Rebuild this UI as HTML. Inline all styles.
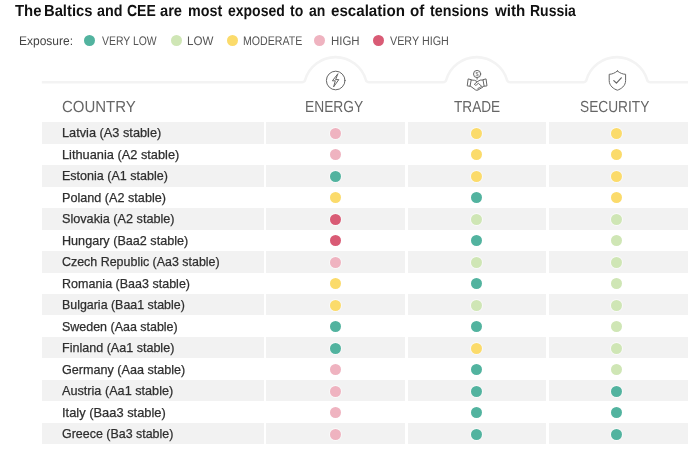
<!DOCTYPE html>
<html><head><meta charset="utf-8"><title>Exposure</title>
<style>
html,body{margin:0;padding:0;background:#fff;}
body{width:700px;height:459px;position:relative;overflow:hidden;font-family:"Liberation Sans",sans-serif;color:#333;}
.t{position:absolute;white-space:nowrap;transform-origin:0 50%;}
.title{font-size:16px;font-weight:bold;color:#111;line-height:20px;}
.tw{margin:0;padding:0;font-size:16px;}
.lg{font-size:12.5px;line-height:14px;color:#555;}
.lge{color:#444;}
.ld{position:absolute;width:11.2px;height:11.2px;border-radius:50%;top:35.25px;}
.hd{font-size:16px;line-height:18px;color:#666;}
.stripe{position:absolute;background:#f2f2f2;}
.rt{font-size:13px;line-height:21px;color:#2e2e2e;-webkit-text-stroke:0.25px #2e2e2e;}
.d{position:absolute;width:11.2px;height:11.2px;border-radius:50%;box-shadow:0 0 0 1px rgba(255,255,255,.55);}
svg{position:absolute;left:0;top:0;}
</style></head><body>

<div class="stripe" style="left:41.8px;top:122.10px;width:221.9px;height:21.55px"></div>
<div class="stripe" style="left:266.4px;top:122.10px;width:138.4px;height:21.55px"></div>
<div class="stripe" style="left:407.8px;top:122.10px;width:137.9px;height:21.55px"></div>
<div class="stripe" style="left:549.0px;top:122.10px;width:139.0px;height:21.55px"></div>
<div class="stripe" style="left:41.8px;top:165.06px;width:221.9px;height:21.55px"></div>
<div class="stripe" style="left:266.4px;top:165.06px;width:138.4px;height:21.55px"></div>
<div class="stripe" style="left:407.8px;top:165.06px;width:137.9px;height:21.55px"></div>
<div class="stripe" style="left:549.0px;top:165.06px;width:139.0px;height:21.55px"></div>
<div class="stripe" style="left:41.8px;top:208.02px;width:221.9px;height:21.55px"></div>
<div class="stripe" style="left:266.4px;top:208.02px;width:138.4px;height:21.55px"></div>
<div class="stripe" style="left:407.8px;top:208.02px;width:137.9px;height:21.55px"></div>
<div class="stripe" style="left:549.0px;top:208.02px;width:139.0px;height:21.55px"></div>
<div class="stripe" style="left:41.8px;top:250.98px;width:221.9px;height:21.55px"></div>
<div class="stripe" style="left:266.4px;top:250.98px;width:138.4px;height:21.55px"></div>
<div class="stripe" style="left:407.8px;top:250.98px;width:137.9px;height:21.55px"></div>
<div class="stripe" style="left:549.0px;top:250.98px;width:139.0px;height:21.55px"></div>
<div class="stripe" style="left:41.8px;top:293.94px;width:221.9px;height:21.55px"></div>
<div class="stripe" style="left:266.4px;top:293.94px;width:138.4px;height:21.55px"></div>
<div class="stripe" style="left:407.8px;top:293.94px;width:137.9px;height:21.55px"></div>
<div class="stripe" style="left:549.0px;top:293.94px;width:139.0px;height:21.55px"></div>
<div class="stripe" style="left:41.8px;top:336.90px;width:221.9px;height:21.55px"></div>
<div class="stripe" style="left:266.4px;top:336.90px;width:138.4px;height:21.55px"></div>
<div class="stripe" style="left:407.8px;top:336.90px;width:137.9px;height:21.55px"></div>
<div class="stripe" style="left:549.0px;top:336.90px;width:139.0px;height:21.55px"></div>
<div class="stripe" style="left:41.8px;top:379.86px;width:221.9px;height:21.55px"></div>
<div class="stripe" style="left:266.4px;top:379.86px;width:138.4px;height:21.55px"></div>
<div class="stripe" style="left:407.8px;top:379.86px;width:137.9px;height:21.55px"></div>
<div class="stripe" style="left:549.0px;top:379.86px;width:139.0px;height:21.55px"></div>
<div class="stripe" style="left:41.8px;top:422.82px;width:221.9px;height:21.55px"></div>
<div class="stripe" style="left:266.4px;top:422.82px;width:138.4px;height:21.55px"></div>
<div class="stripe" style="left:407.8px;top:422.82px;width:137.9px;height:21.55px"></div>
<div class="stripe" style="left:549.0px;top:422.82px;width:139.0px;height:21.55px"></div>
<div class="ld" style="left:83.90px;background:#52b39f"></div>
<div class="ld" style="left:170.60px;background:#cfe6b5"></div>
<div class="ld" style="left:226.60px;background:#fbdb6b"></div>
<div class="ld" style="left:314.20px;background:#efb3c0"></div>
<div class="ld" style="left:372.90px;background:#d95b75"></div>
<svg width="700" height="130" viewBox="0 0 700 130" fill="none">
<path d="M41.8 82.2 L301.92 82.2 Q304.52 82.2 305.12 80.00 A31.6 31.6 0 0 1 365.88 80.00 Q366.48 82.2 369.08 82.2 L443.02 82.2 Q445.62 82.2 446.22 80.00 A31.6 31.6 0 0 1 506.98 80.00 Q507.58 82.2 510.18 82.2 L583.22 82.2 Q585.82 82.2 586.42 80.00 A31.6 31.6 0 0 1 647.18 80.00 Q647.78 82.2 650.38 82.2 L688 82.2" stroke="#f3f3f3" stroke-width="2.6"/>
<g stroke="#666" stroke-width="1" stroke-linejoin="round" stroke-linecap="round" transform="translate(335.7 0)">
<circle cx="0" cy="80.5" r="9.3"/><path d="M2 74 L-3.3 80.8 L-0.4 80.8 L-2.1 86.9 L3.1 79.6 L0.3 79.6 Z"/></g>
<g stroke="#666" stroke-width="1" stroke-linejoin="round" stroke-linecap="round" transform="translate(477.1 0)">
<circle cx="0" cy="74" r="3.6"/>
<path d="M-8.56 79 L-5.86 79.7 L-7.07 86.3 L-9.49 85.9 Z"/><path d="M8.56 79 L5.86 79.7 L7.07 86.3 L9.49 85.9 Z"/>
<path d="M-5.86 80 L-2.42 80.3 L0.19 81.7 L2.98 80.1 L5.86 80"/>
<path d="M0.19 81.7 L-2.79 84.3 Q-1.86 85.9 -0.47 84.8 L1.21 83.3 L5.58 87.2"/>
<path d="M-6.88 86 L-1.4 90 Q-0.28 90.6 0.93 90 L5.58 87.2 L6.7 86"/>
<path d="M0 78 L0 79.2"/>
<path d="M0.56 89 L1.86 87.6 M2.42 88 L3.72 86.6"/></g>
<g stroke="#666" stroke-width="1" stroke-linejoin="round" stroke-linecap="round" transform="translate(617.4 0)">
<path d="M0 71 C-2.6 73.2 -5.4 74.2 -8.2 74.3 L-8.2 80.5 C-8.2 86 -3.6 89 0 90.2 C3.6 89 8.2 86 8.2 80.5 L8.2 74.3 C5.4 74.2 2.6 73.2 0 71 Z"/><path d="M-3.6 80.6 L-1 83.2 L3.9 77.8" stroke-width="1.2"/></g>
<text x="477.1" y="75.9" font-size="5.5" fill="#666" text-anchor="middle" font-family="Liberation Sans, sans-serif">$</text>
</svg>
<h1 class="tw">
<span id="tw0" class="t title" style="left:14.63px;top:1.00px;transform:rotate(0.03deg) scaleX(0.9320)">The</span>
<span id="tw1" class="t title" style="left:44.06px;top:1.00px;transform:rotate(0.03deg) scaleX(0.9226)">Baltics</span>
<span id="tw2" class="t title" style="left:96.74px;top:1.00px;transform:rotate(0.03deg) scaleX(0.8965)">and</span>
<span id="tw3" class="t title" style="left:126.59px;top:1.00px;transform:rotate(0.03deg) scaleX(0.8750)">CEE</span>
<span id="tw4" class="t title" style="left:160.00px;top:1.00px;transform:rotate(0.03deg) scaleX(0.9168)">are</span>
<span id="tw5" class="t title" style="left:188.34px;top:1.00px;transform:rotate(0.03deg) scaleX(0.8933)">most</span>
<span id="tw6" class="t title" style="left:228.30px;top:1.00px;transform:rotate(0.03deg) scaleX(0.8750)">exposed</span>
<span id="tw7" class="t title" style="left:289.94px;top:1.00px;transform:rotate(0.03deg) scaleX(0.8750)">to</span>
<span id="tw8" class="t title" style="left:309.20px;top:1.00px;transform:rotate(0.03deg) scaleX(0.8750)">an</span>
<span id="tw9" class="t title" style="left:331.40px;top:1.00px;transform:rotate(0.03deg) scaleX(0.9450)">escalation</span>
<span id="tw10" class="t title" style="left:409.88px;top:1.00px;transform:rotate(0.03deg) scaleX(0.9450)">of</span>
<span id="tw11" class="t title" style="left:430.00px;top:1.00px;transform:rotate(0.03deg) scaleX(0.8933)">tensions</span>
<span id="tw12" class="t title" style="left:494.90px;top:1.00px;transform:rotate(0.03deg) scaleX(0.9450)">with</span>
<span id="tw13" class="t title" style="left:530.17px;top:1.00px;transform:rotate(0.03deg) scaleX(0.8750)">Russia</span>
</h1>
<div id="lg0" class="t lg lge" style="left:19.07px;top:34.10px;transform:rotate(0.03deg) scaleX(0.9605)">Exposure:</div>
<div id="lg1" class="t lg" style="left:102.05px;top:34.10px;transform:rotate(0.03deg) scaleX(0.8336)">VERY LOW</div>
<div id="lg2" class="t lg" style="left:187.08px;top:34.10px;transform:rotate(0.03deg) scaleX(0.9245)">LOW</div>
<div id="lg3" class="t lg" style="left:243.15px;top:34.10px;transform:rotate(0.03deg) scaleX(0.8495)">MODERATE</div>
<div id="lg4" class="t lg" style="left:331.07px;top:34.10px;transform:rotate(0.03deg) scaleX(0.9153)">HIGH</div>
<div id="lg5" class="t lg" style="left:390.05px;top:34.10px;transform:rotate(0.03deg) scaleX(0.8611)">VERY HIGH</div>
<div id="h0" class="t hd" style="left:62.06px;top:97.60px;transform:rotate(0.03deg) scaleX(0.9351)">COUNTRY</div>
<div id="h1" class="t hd" style="left:305.14px;top:97.60px;transform:rotate(0.03deg) scaleX(0.8612)">ENERGY</div>
<div id="h2" class="t hd" style="left:454.06px;top:97.60px;transform:rotate(0.03deg) scaleX(0.8519)">TRADE</div>
<div id="h3" class="t hd" style="left:580.19px;top:97.60px;transform:rotate(0.03deg) scaleX(0.8564)">SECURITY</div>
<div id="r0" class="t rt" style="left:62.00px;top:122.40px;transform:scaleX(0.9810)">Latvia (A3 stable)</div>
<div id="r1" class="t rt" style="left:62.00px;top:143.88px;transform:scaleX(0.9834)">Lithuania (A2 stable)</div>
<div id="r2" class="t rt" style="left:62.00px;top:165.36px;transform:scaleX(0.9637)">Estonia (A1 stable)</div>
<div id="r3" class="t rt" style="left:62.00px;top:186.84px;transform:scaleX(0.9720)">Poland (A2 stable)</div>
<div id="r4" class="t rt" style="left:62.00px;top:208.32px;transform:scaleX(0.9737)">Slovakia (A2 stable)</div>
<div id="r5" class="t rt" style="left:62.00px;top:229.80px;transform:scaleX(0.9703)">Hungary (Baa2 stable)</div>
<div id="r6" class="t rt" style="left:62.00px;top:251.28px;transform:scaleX(0.9570)">Czech Republic (Aa3 stable)</div>
<div id="r7" class="t rt" style="left:62.00px;top:272.76px;transform:scaleX(0.9628)">Romania (Baa3 stable)</div>
<div id="r8" class="t rt" style="left:62.00px;top:294.24px;transform:scaleX(0.9546)">Bulgaria (Baa1 stable)</div>
<div id="r9" class="t rt" style="left:62.00px;top:315.72px;transform:scaleX(0.9586)">Sweden (Aaa stable)</div>
<div id="r10" class="t rt" style="left:62.00px;top:337.20px;transform:scaleX(0.9654)">Finland (Aa1 stable)</div>
<div id="r11" class="t rt" style="left:62.00px;top:358.68px;transform:scaleX(0.9688)">Germany (Aaa stable)</div>
<div id="r12" class="t rt" style="left:62.00px;top:380.16px;transform:scaleX(0.9741)">Austria (Aa1 stable)</div>
<div id="r13" class="t rt" style="left:62.00px;top:401.64px;transform:scaleX(0.9906)">Italy (Baa3 stable)</div>
<div id="r14" class="t rt" style="left:62.00px;top:423.12px;transform:scaleX(0.9573)">Greece (Ba3 stable)</div>
<div class="d" style="left:329.90px;top:127.80px;background:#efb3c0"></div>
<div class="d" style="left:471.00px;top:127.80px;background:#fbdb6b"></div>
<div class="d" style="left:611.20px;top:127.80px;background:#fbdb6b"></div>
<div class="d" style="left:329.90px;top:149.28px;background:#efb3c0"></div>
<div class="d" style="left:471.00px;top:149.28px;background:#fbdb6b"></div>
<div class="d" style="left:611.20px;top:149.28px;background:#fbdb6b"></div>
<div class="d" style="left:329.90px;top:170.76px;background:#52b39f"></div>
<div class="d" style="left:471.00px;top:170.76px;background:#fbdb6b"></div>
<div class="d" style="left:611.20px;top:170.76px;background:#fbdb6b"></div>
<div class="d" style="left:329.90px;top:192.24px;background:#fbdb6b"></div>
<div class="d" style="left:471.00px;top:192.24px;background:#52b39f"></div>
<div class="d" style="left:611.20px;top:192.24px;background:#fbdb6b"></div>
<div class="d" style="left:329.90px;top:213.72px;background:#d95b75"></div>
<div class="d" style="left:471.00px;top:213.72px;background:#cfe6b5"></div>
<div class="d" style="left:611.20px;top:213.72px;background:#cfe6b5"></div>
<div class="d" style="left:329.90px;top:235.20px;background:#d95b75"></div>
<div class="d" style="left:471.00px;top:235.20px;background:#52b39f"></div>
<div class="d" style="left:611.20px;top:235.20px;background:#cfe6b5"></div>
<div class="d" style="left:329.90px;top:256.68px;background:#efb3c0"></div>
<div class="d" style="left:471.00px;top:256.68px;background:#cfe6b5"></div>
<div class="d" style="left:611.20px;top:256.68px;background:#cfe6b5"></div>
<div class="d" style="left:329.90px;top:278.16px;background:#fbdb6b"></div>
<div class="d" style="left:471.00px;top:278.16px;background:#52b39f"></div>
<div class="d" style="left:611.20px;top:278.16px;background:#cfe6b5"></div>
<div class="d" style="left:329.90px;top:299.64px;background:#fbdb6b"></div>
<div class="d" style="left:471.00px;top:299.64px;background:#cfe6b5"></div>
<div class="d" style="left:611.20px;top:299.64px;background:#cfe6b5"></div>
<div class="d" style="left:329.90px;top:321.12px;background:#52b39f"></div>
<div class="d" style="left:471.00px;top:321.12px;background:#52b39f"></div>
<div class="d" style="left:611.20px;top:321.12px;background:#cfe6b5"></div>
<div class="d" style="left:329.90px;top:342.60px;background:#52b39f"></div>
<div class="d" style="left:471.00px;top:342.60px;background:#fbdb6b"></div>
<div class="d" style="left:611.20px;top:342.60px;background:#cfe6b5"></div>
<div class="d" style="left:329.90px;top:364.08px;background:#efb3c0"></div>
<div class="d" style="left:471.00px;top:364.08px;background:#52b39f"></div>
<div class="d" style="left:611.20px;top:364.08px;background:#cfe6b5"></div>
<div class="d" style="left:329.90px;top:385.56px;background:#efb3c0"></div>
<div class="d" style="left:471.00px;top:385.56px;background:#52b39f"></div>
<div class="d" style="left:611.20px;top:385.56px;background:#52b39f"></div>
<div class="d" style="left:329.90px;top:407.04px;background:#efb3c0"></div>
<div class="d" style="left:471.00px;top:407.04px;background:#52b39f"></div>
<div class="d" style="left:611.20px;top:407.04px;background:#52b39f"></div>
<div class="d" style="left:329.90px;top:428.52px;background:#efb3c0"></div>
<div class="d" style="left:471.00px;top:428.52px;background:#52b39f"></div>
<div class="d" style="left:611.20px;top:428.52px;background:#52b39f"></div>
</body></html>
